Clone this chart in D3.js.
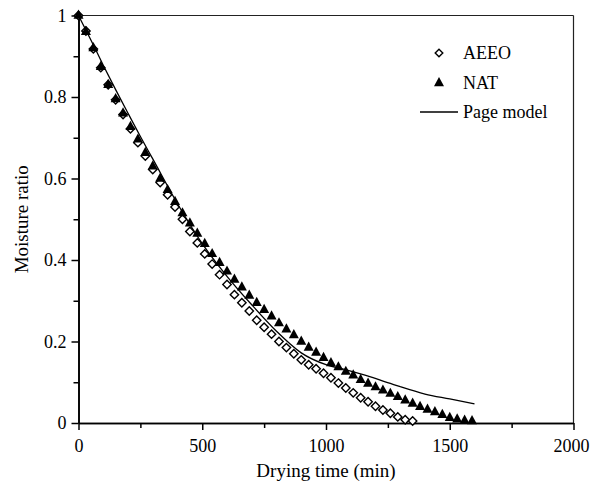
<!DOCTYPE html>
<html>
<head>
<meta charset="utf-8">
<script src="https://cdn.jsdelivr.net/npm/d3@7"></script>
<style>
  body { margin: 0; background: #fff; }
  svg { display: block; font-family: "Liberation Serif", "Times New Roman", serif; }
</style>
</head>
<body>
<div id="chart"></div>
<script>
// data ------------------------------------------------------
const aeeoTime = [0, 30, 60, 90, 120, 150, 180, 210, 240, 270, 300, 330, 360, 390, 420, 450,
  480, 510, 540, 570, 600, 630, 660, 690, 720, 750, 780, 810, 840, 870, 900, 930, 960, 990,
  1020, 1050, 1080, 1110, 1140, 1170, 1200, 1230, 1260, 1290, 1320, 1350];
const aeeoMR = [1, 0.962, 0.918, 0.872, 0.83, 0.793, 0.757, 0.722, 0.688, 0.655, 0.622, 0.59,
  0.56, 0.53, 0.5, 0.47, 0.442, 0.415, 0.39, 0.364, 0.34, 0.315, 0.295, 0.275, 0.252, 0.235,
  0.218, 0.2, 0.185, 0.17, 0.155, 0.143, 0.133, 0.122, 0.111, 0.098, 0.086, 0.074, 0.062,
  0.052, 0.041, 0.032, 0.024, 0.015, 0.008, 0.005];

const natTime = [0, 30, 60, 90, 120, 150, 180, 210, 240, 270, 300, 330, 360, 390, 420, 450,
  480, 510, 540, 570, 600, 630, 660, 690, 720, 750, 780, 810, 840, 870, 900, 930, 960, 990,
  1020, 1050, 1080, 1110, 1140, 1170, 1200, 1230, 1260, 1290, 1320, 1350, 1380, 1410, 1440,
  1470, 1500, 1530, 1560, 1590];
const natMR = [1, 0.96, 0.92, 0.874, 0.83, 0.795, 0.76, 0.727, 0.696, 0.663, 0.63, 0.6, 0.572,
  0.543, 0.515, 0.49, 0.465, 0.44, 0.415, 0.393, 0.372, 0.352, 0.333, 0.313, 0.295, 0.278,
  0.262, 0.245, 0.23, 0.216, 0.2, 0.185, 0.173, 0.16, 0.147, 0.137, 0.126, 0.117, 0.106,
  0.097, 0.088, 0.08, 0.072, 0.064, 0.056, 0.048, 0.04, 0.033, 0.027, 0.02, 0.013, 0.009,
  0.006, 0.005];

// Page model curve
const pageTime = [0, 50, 100, 150, 200, 250, 300, 400, 500, 600, 700, 800, 900, 1000, 1070,
  1180, 1260, 1300, 1400, 1500, 1600];
const pageMR = [1, 0.94, 0.878, 0.818, 0.76, 0.703, 0.648, 0.538, 0.44, 0.36, 0.29, 0.225,
  0.172, 0.143, 0.132, 0.113, 0.097, 0.089, 0.071, 0.059, 0.047];

const xMajor = [0, 500, 1000, 1500, 2000];
const xMinor = [250, 750, 1250, 1750];
const yMajor = [0, 0.2, 0.4, 0.6, 0.8, 1];
const yMinor = [0.1, 0.3, 0.5, 0.7, 0.9];
// -----------------------------------------------------------

const width = 590, height = 484;

const svg = d3.select("#chart")
  .append("svg")
  .attr("width", width)
  .attr("height", height);

const x = d3.scaleLinear().domain([0, 2000]).range([78.5, 573.5]);
const y = d3.scaleLinear().domain([0, 1]).range([423, 15.5]);

// frame (top and right)
svg.append("line")
  .attr("x1", x(0)).attr("x2", x(2000))
  .attr("y1", y(1)).attr("y2", y(1))
  .attr("stroke", "#222").attr("stroke-width", 1.2);
svg.append("line")
  .attr("x1", x(2000)).attr("x2", x(2000))
  .attr("y1", y(1)).attr("y2", y(0))
  .attr("stroke", "#222").attr("stroke-width", 1.2);

// axes
function styleAxis(g) {
  g.selectAll("path.domain").attr("stroke", "#000").attr("stroke-width", 1.6);
  g.selectAll(".tick line").attr("stroke", "#000").attr("stroke-width", 1.5);
  g.selectAll(".tick text")
    .attr("fill", "#000")
    .style("font-family", "'Liberation Serif', 'Times New Roman', serif")
    .style("font-size", "18px");
}

svg.append("g")
  .attr("transform", `translate(0,${y(0)})`)
  .call(d3.axisBottom(x).tickValues(xMinor).tickSize(5).tickFormat("").tickSizeOuter(0))
  .call(styleAxis);
const xAxis = svg.append("g")
  .attr("transform", `translate(0,${y(0)})`)
  .call(d3.axisBottom(x).tickValues(xMajor).tickSize(7).tickPadding(9)
    .tickFormat(d => String(d)).tickSizeOuter(0))
  .call(styleAxis);
// last label sits against the right edge of the page
xAxis.selectAll(".tick text").filter(d => d === 2000).attr("dx", -2.5);

svg.append("g")
  .attr("transform", `translate(${x(0)},0)`)
  .call(d3.axisLeft(y).tickValues(yMinor).tickSize(5).tickFormat("").tickSizeOuter(0))
  .call(styleAxis);
svg.append("g")
  .attr("transform", `translate(${x(0)},0)`)
  .call(d3.axisLeft(y).tickValues(yMajor).tickSize(7).tickPadding(5)
    .tickFormat(d => String(d)).tickSizeOuter(0))
  .call(styleAxis);

// axis titles
svg.append("text")
  .attr("x", (x(0) + x(2000)) / 2)
  .attr("y", 477)
  .attr("text-anchor", "middle")
  .style("font-size", "19px")
  .text("Drying time (min)");

svg.append("text")
  .attr("transform", `translate(28,${(y(0) + y(1)) / 2}) rotate(-90)`)
  .attr("text-anchor", "middle")
  .style("font-size", "19px")
  .text("Moisture ratio");

// markers
const diamond = "M0,-4.2L4.2,0L0,4.2L-4.2,0Z";
const triangle = "M0,-6L5,3.2L-5,3.2Z";

const aeeo = aeeoTime.map((t, i) => ({ t, v: aeeoMR[i] }));
const nat = natTime.map((t, i) => ({ t, v: natMR[i] }));
const page = pageTime.map((t, i) => ({ t, v: pageMR[i] }));

svg.append("g").selectAll("path")
  .data(aeeo)
  .enter()
  .append("path")
  .attr("d", diamond)
  .attr("transform", d => `translate(${x(d.t)},${y(d.v)})`)
  .attr("fill", "#fff")
  .attr("stroke", "#000")
  .attr("stroke-width", 1.4);

svg.append("g").selectAll("path")
  .data(nat)
  .enter()
  .append("path")
  .attr("d", triangle)
  .attr("transform", d => `translate(${x(d.t)},${y(d.v)})`)
  .attr("fill", "#000");

const line = d3.line()
  .x(d => x(d.t))
  .y(d => y(d.v))
  .curve(d3.curveMonotoneX);

svg.append("path")
  .datum(page)
  .attr("d", line)
  .attr("fill", "none")
  .attr("stroke", "#000")
  .attr("stroke-width", 1.3);

// legend
const legend = svg.append("g").style("font-size", "18px");
legend.append("path")
  .attr("d", "M0,-3.8L3.8,0L0,3.8L-3.8,0Z")
  .attr("transform", "translate(439,53)")
  .attr("fill", "#fff").attr("stroke", "#000").attr("stroke-width", 1.4);
legend.append("text").attr("x", 463).attr("y", 59).text("AEEO");

legend.append("path")
  .attr("d", triangle)
  .attr("transform", "translate(439,83)")
  .attr("fill", "#000");
legend.append("text").attr("x", 463).attr("y", 89).text("NAT");

legend.append("line")
  .attr("x1", 420).attr("x2", 458)
  .attr("y1", 112).attr("y2", 112)
  .attr("stroke", "#000").attr("stroke-width", 1.3);
legend.append("text").attr("x", 463).attr("y", 118).text("Page model");
</script>
</body>
</html>
